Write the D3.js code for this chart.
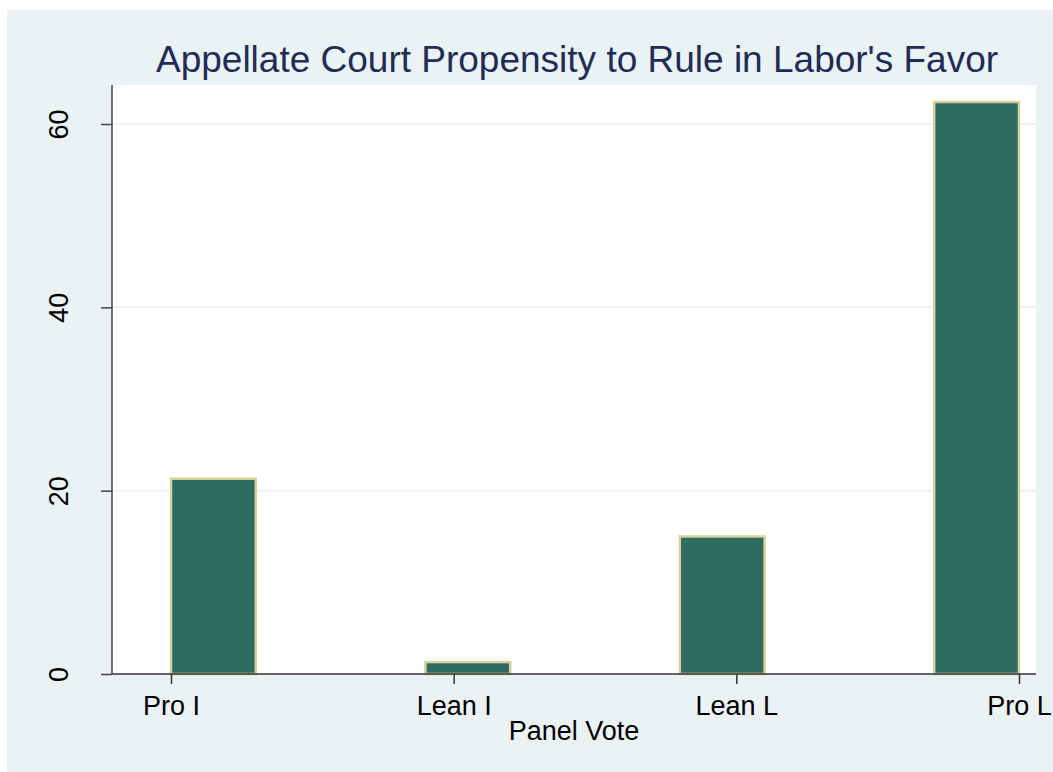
<!DOCTYPE html>
<html>
<head>
<meta charset="utf-8">
<script src="https://cdn.jsdelivr.net/npm/d3@7"></script>
<style>
  body { margin: 0; background: #ffffff; }
  text { font-family: "Liberation Sans", Arial, sans-serif; }
</style>
</head>
<body>
<div id="graph"></div>
<script>
// data
let categories = ["Pro I", "Lean I", "Lean L", "Pro L"];
let percents = [21.3, 1.3, 15.0, 62.4];
let yTicks = [0, 20, 40, 60];

let width = 1053, height = 772;
let plot = { left: 112, right: 1036, top: 85, bottom: 674 };

let svg = d3.select("#graph")
    .append("svg")
    .attr("width", width)
    .attr("height", height);

// graph region + plot region backgrounds
svg.append("rect")
    .attr("x", 7).attr("y", 10)
    .attr("width", width - 7).attr("height", height - 10)
    .attr("fill", "#eaf2f3");

svg.append("rect")
    .attr("x", plot.left).attr("y", plot.top)
    .attr("width", plot.right - plot.left).attr("height", plot.bottom - plot.top)
    .attr("fill", "#ffffff");

// tick scale: category i sits at i+1
let x = d3.scaleLinear()
    .domain([1, 4])
    .range([171, 1019]);

let y = d3.scaleLinear()
    .domain([0, 60])
    .range([plot.bottom, 124]);

// grid lines
svg.append("g")
    .selectAll("line")
    .data(yTicks.filter(function(d) { return d > 0; }))
    .enter()
    .append("line")
    .attr("x1", plot.left)
    .attr("x2", plot.right)
    .attr("y1", function(d) { return y(d); })
    .attr("y2", function(d) { return y(d); })
    .attr("stroke", "#eaf2f3")
    .attr("stroke-width", 2);

// bars: each bar starts 0.9 units apart, 0.3 units wide
let barStart = function(i) { return 1 + 0.9 * i; };
let barWidth = 0.3;

svg.append("g")
    .selectAll("rect")
    .data(percents)
    .enter()
    .append("rect")
    .attr("x", function(d, i) { return x(barStart(i)); })
    .attr("y", function(d) { return y(d); })
    .attr("width", function(d, i) { return x(barStart(i) + barWidth) - x(barStart(i)); })
    .attr("height", function(d) { return y(0) - y(d); })
    .attr("fill", "#2e6b63")
    .attr("stroke", "#d8d19b")
    .attr("stroke-width", 2.5);

// y axis
let yAxis = svg.append("g")
    .attr("transform", `translate(${plot.left}, 0)`)
    .call(d3.axisLeft(y).tickValues(yTicks).tickSize(11).tickPadding(0).tickFormat(d3.format("d")));

yAxis.select(".domain")
    .attr("d", `M0,${plot.top}V${plot.bottom}`)
    .attr("stroke", "#444")
    .attr("stroke-width", 1.5);
yAxis.selectAll(".tick line").attr("stroke", "#444").attr("stroke-width", 1.5);
yAxis.selectAll(".tick text")
    .attr("x", null).attr("dy", null)
    .attr("transform", "translate(-44, 0) rotate(-90)")
    .style("text-anchor", "middle")
    .style("font-size", "27px")
    .attr("fill", "#000");

// x axis
let xAxis = svg.append("g")
    .attr("transform", `translate(0, ${plot.bottom})`)
    .call(d3.axisBottom(x).tickValues([1, 2, 3, 4]).tickSize(10).tickPadding(0)
        .tickFormat(function(d) { return categories[d - 1]; }));

xAxis.select(".domain")
    .attr("d", `M${plot.left},0H${plot.right}`)
    .attr("stroke", "#333")
    .attr("stroke-width", 1.5);
xAxis.selectAll(".tick line").attr("stroke", "#333").attr("stroke-width", 1.5);
xAxis.selectAll(".tick text")
    .attr("y", 41).attr("dy", null)
    .style("font-size", "27px")
    .attr("fill", "#000");

// axis title
svg.append("text")
    .attr("x", (plot.left + plot.right) / 2)
    .attr("y", 740)
    .style("text-anchor", "middle")
    .style("font-size", "27px")
    .attr("fill", "#000")
    .text("Panel Vote");

// chart title
svg.append("text")
    .attr("x", 577)
    .attr("y", 72)
    .style("text-anchor", "middle")
    .style("font-size", "37px")
    .attr("fill", "#1f2d56")
    .text("Appellate Court Propensity to Rule in Labor's Favor");
</script>
</body>
</html>
